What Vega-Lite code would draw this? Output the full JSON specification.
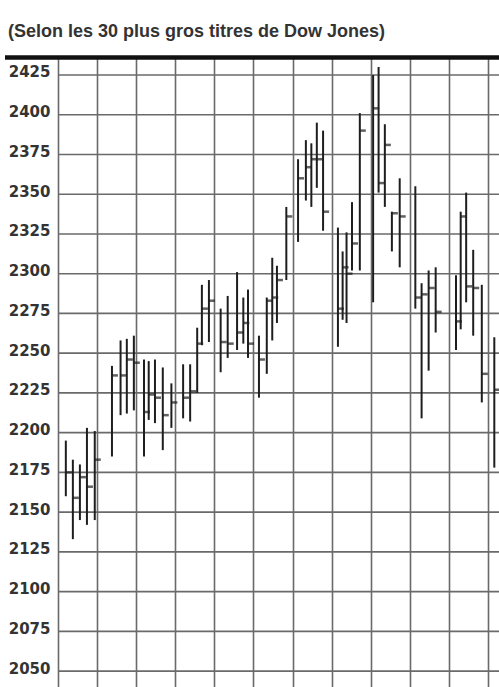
{
  "$schema": "https://vega.github.io/schema/vega-lite/v6.json",
  "autosize": "none",
  "width": 494,
  "height": 630,
  "padding": {"left": 5, "top": 57, "right": 0, "bottom": 0},
  "background": "#ffffff",
  "title": {
    "text": "(Selon les 30 plus gros titres de Dow Jones)",
    "anchor": "start",
    "frame": "group",
    "baseline": "alphabetic",
    "offset": 0,
    "dx": 3,
    "font": "Liberation Sans",
    "fontSize": 18,
    "fontWeight": "bold",
    "color": "#333333"
  },
  "config": {
    "view": {"stroke": null}
  },
  "data": {
    "values": [
      {"d": 1.0, "h": 2195, "l": 2160, "c": 2175},
      {"d": 1.9, "h": 2183, "l": 2133, "c": 2159},
      {"d": 2.8, "h": 2180, "l": 2145, "c": 2172},
      {"d": 3.7, "h": 2203, "l": 2142, "c": 2166},
      {"d": 4.7, "h": 2201, "l": 2145, "c": 2183},
      {"d": 6.9, "h": 2242, "l": 2185, "c": 2236},
      {"d": 8.0, "h": 2258, "l": 2211, "c": 2236},
      {"d": 8.8, "h": 2259, "l": 2212, "c": 2246},
      {"d": 9.7, "h": 2261, "l": 2214, "c": 2244},
      {"d": 11.0, "h": 2246, "l": 2185, "c": 2213},
      {"d": 11.6, "h": 2245, "l": 2208, "c": 2224},
      {"d": 12.4, "h": 2246, "l": 2206, "c": 2222},
      {"d": 13.4, "h": 2241, "l": 2189, "c": 2211},
      {"d": 14.5, "h": 2231, "l": 2203, "c": 2219},
      {"d": 16.0, "h": 2243, "l": 2209, "c": 2222},
      {"d": 16.9, "h": 2243, "l": 2207, "c": 2226},
      {"d": 17.8, "h": 2266, "l": 2225, "c": 2256},
      {"d": 18.4, "h": 2293, "l": 2255, "c": 2278},
      {"d": 19.3, "h": 2296, "l": 2257, "c": 2283},
      {"d": 20.8, "h": 2278, "l": 2238, "c": 2257},
      {"d": 21.7, "h": 2286, "l": 2247, "c": 2256},
      {"d": 22.9, "h": 2301, "l": 2252, "c": 2263},
      {"d": 23.7, "h": 2285, "l": 2256, "c": 2269},
      {"d": 24.3, "h": 2290, "l": 2247, "c": 2256},
      {"d": 25.7, "h": 2261, "l": 2222, "c": 2246},
      {"d": 26.7, "h": 2285, "l": 2237, "c": 2283},
      {"d": 27.4, "h": 2310, "l": 2258, "c": 2285},
      {"d": 28.0, "h": 2305, "l": 2269, "c": 2296},
      {"d": 29.2, "h": 2342, "l": 2296, "c": 2336},
      {"d": 30.7, "h": 2372, "l": 2320, "c": 2360},
      {"d": 31.7, "h": 2384, "l": 2346, "c": 2367},
      {"d": 32.4, "h": 2382, "l": 2342, "c": 2372},
      {"d": 33.1, "h": 2395, "l": 2354, "c": 2372},
      {"d": 33.9, "h": 2390, "l": 2327, "c": 2339},
      {"d": 35.8, "h": 2329, "l": 2254, "c": 2278},
      {"d": 36.4, "h": 2314, "l": 2271, "c": 2304},
      {"d": 36.9, "h": 2326, "l": 2269, "c": 2300},
      {"d": 37.6, "h": 2345, "l": 2302, "c": 2319},
      {"d": 38.6, "h": 2401, "l": 2302, "c": 2390},
      {"d": 40.3, "h": 2425, "l": 2282, "c": 2404},
      {"d": 41.0, "h": 2430, "l": 2351, "c": 2357},
      {"d": 41.8, "h": 2394, "l": 2342, "c": 2381},
      {"d": 42.7, "h": 2339, "l": 2314, "c": 2338},
      {"d": 43.7, "h": 2360, "l": 2304, "c": 2336},
      {"d": 45.7, "h": 2355, "l": 2278, "c": 2285},
      {"d": 46.5, "h": 2294, "l": 2209, "c": 2287},
      {"d": 47.4, "h": 2302, "l": 2239, "c": 2291},
      {"d": 48.3, "h": 2304, "l": 2263, "c": 2276},
      {"d": 50.9, "h": 2299, "l": 2252, "c": 2270},
      {"d": 51.5, "h": 2339, "l": 2265, "c": 2336},
      {"d": 52.2, "h": 2351, "l": 2282, "c": 2292},
      {"d": 53.1, "h": 2315, "l": 2261, "c": 2291},
      {"d": 54.2, "h": 2293, "l": 2219, "c": 2237},
      {"d": 55.8, "h": 2260, "l": 2178, "c": 2227}
    ]
  },
  "layer": [
    {
      "data": {"values": [
        {"g": 2050}, {"g": 2075}, {"g": 2100}, {"g": 2125}, {"g": 2150}, {"g": 2175},
        {"g": 2200}, {"g": 2225}, {"g": 2250}, {"g": 2275}, {"g": 2300}, {"g": 2325},
        {"g": 2350}, {"g": 2375}, {"g": 2400}, {"g": 2425}
      ]},
      "mark": {"type": "rule", "color": "#6a6a6a", "strokeWidth": 1.6},
      "encoding": {
        "y": {"field": "g", "type": "quantitative"},
        "x": {"datum": 0},
        "x2": {"datum": 56.4}
      }
    },
    {
      "data": {"values": [{"top": 2436}]},
      "mark": {"type": "rule", "color": "#111111", "strokeWidth": 4.5},
      "encoding": {
        "y": {"field": "top", "type": "quantitative"},
        "x": {"datum": -6.78},
        "x2": {"datum": 56.4}
      }
    },
    {
      "mark": {"type": "rule", "color": "#1e1e1e", "strokeWidth": 2},
      "encoding": {
        "x": {
          "field": "d",
          "type": "quantitative",
          "scale": {"domain": [-6.78, 56.4], "nice": false, "zero": false},
          "axis": {
            "orient": "bottom",
            "title": null,
            "labels": false,
            "ticks": false,
            "domain": false,
            "grid": true,
            "values": [0, 5, 10, 15, 20, 25, 30, 35, 40, 45, 50, 55],
            "gridColor": "#6a6a6a",
            "gridWidth": 1.6,
            "gridOpacity": 1
          }
        },
        "y": {
          "field": "l",
          "type": "quantitative",
          "scale": {"domain": [2040, 2436.3], "nice": false, "zero": false},
          "axis": {
            "orient": "left",
            "offset": -53,
            "title": null,
            "grid": false,
            "domain": false,
            "ticks": false,
            "tickSize": 0,
            "labelPadding": 8,
            "values": [2050, 2075, 2100, 2125, 2150, 2175, 2200, 2225, 2250, 2275, 2300, 2325, 2350, 2375, 2400, 2425],
            "format": "d",
            "labelFont": "DejaVu Sans",
            "labelFontSize": 15,
            "labelFontWeight": "bold",
            "labelColor": "#333333",
            "labelBaseline": "alphabetic",
            "labelOffset": 2
          }
        },
        "y2": {"field": "h"}
      }
    },
    {
      "mark": {"type": "tick", "orient": "horizontal", "color": "#1e1e1e", "size": 6, "thickness": 2.5, "xOffset": 3},
      "encoding": {
        "x": {"field": "d", "type": "quantitative"},
        "y": {"field": "c", "type": "quantitative"}
      }
    }
  ]
}
